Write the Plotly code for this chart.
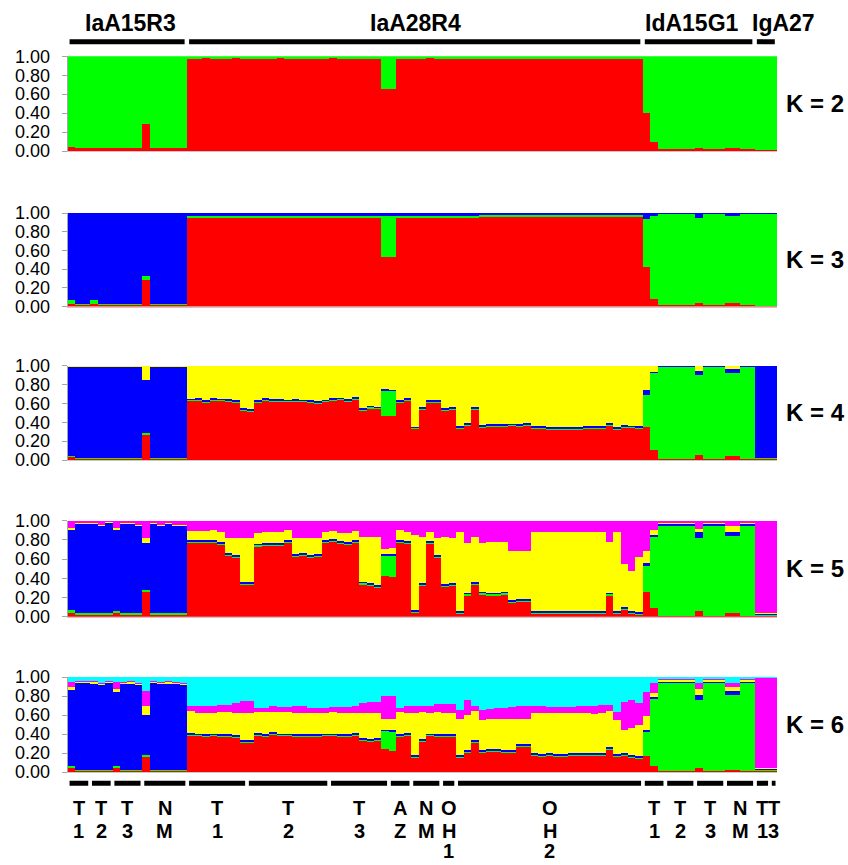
import plotly.graph_objects as go

# ---------------- data ----------------
groups = ["IaA15R3", "IaA28R4", "IdA15G1", "IgA27"]
group_sizes = [16, 61, 15, 3]
subgroup_labels = ["T1", "T2", "T3", "NM", "T1", "T2", "T3", "AZ", "NM", "OH1", "OH2",
                   "T1", "T2", "T3", "NM", "T1", "T3"]
subgroup_sizes = [3, 3, 4, 6, 8, 11, 8, 3, 4, 2, 25, 3, 4, 4, 4, 2, 1]
k_values = [2, 3, 4, 5, 6]
cluster_names = ["red", "green", "blue", "yellow", "magenta", "cyan"]

k2_red = [0.04, 0.03, 0.03, 0.03, 0.03, 0.03, 0.03, 0.03, 0.03, 0.03, 0.29, 0.03, 0.03, 0.03, 0.03, 0.03,
          0.975, 0.975, 0.98, 0.975, 0.975, 0.975, 0.98, 0.975, 0.975, 0.975,
          0.975, 0.975, 0.98, 0.975, 0.975, 0.975, 0.975, 0.975, 0.975, 0.98,
          0.975, 0.975, 0.975, 0.975, 0.975, 0.975, 0.65, 0.65, 0.975, 0.975,
          0.975, 0.975, 0.98, 0.975, 0.975, 0.975, 0.975, 0.975, 0.975, 0.975,
          0.975, 0.975, 0.975, 0.975, 0.975, 0.975, 0.975, 0.975, 0.975, 0.975,
          0.975, 0.975, 0.975, 0.975, 0.975, 0.975, 0.975, 0.975, 0.975, 0.975, 0.975,
          0.40, 0.10, 0.02, 0.02, 0.02, 0.02, 0.02, 0.035, 0.02, 0.02, 0.02, 0.03, 0.03, 0.02, 0.02,
          0.01, 0.01, 0.01]
k2_green = [0.96, 0.97, 0.97, 0.97, 0.97, 0.97, 0.97, 0.97, 0.97, 0.97, 0.71, 0.97, 0.97, 0.97, 0.97, 0.97,
            0.025, 0.025, 0.02, 0.025, 0.025, 0.025, 0.02, 0.025, 0.025, 0.025,
            0.025, 0.025, 0.02, 0.025, 0.025, 0.025, 0.025, 0.025, 0.025, 0.02,
            0.025, 0.025, 0.025, 0.025, 0.025, 0.025, 0.35, 0.35, 0.025, 0.025,
            0.025, 0.025, 0.02, 0.025, 0.025, 0.025, 0.025, 0.025, 0.025, 0.025,
            0.025, 0.025, 0.025, 0.025, 0.025, 0.025, 0.025, 0.025, 0.025, 0.025,
            0.025, 0.025, 0.025, 0.025, 0.025, 0.025, 0.025, 0.025, 0.025, 0.025, 0.025,
            0.60, 0.90, 0.98, 0.98, 0.98, 0.98, 0.98, 0.965, 0.98, 0.98, 0.98, 0.97, 0.97, 0.98, 0.98,
            0.99, 0.99, 0.99]

k3_red = [0.03, 0.015, 0.015, 0.03, 0.015, 0.015, 0.015, 0.015, 0.015, 0.015, 0.28, 0.015, 0.015, 0.015, 0.015, 0.015,
          0.945, 0.945, 0.945, 0.945, 0.945, 0.95, 0.95, 0.95, 0.95, 0.95,
          0.95, 0.95, 0.95, 0.95, 0.95, 0.945, 0.945, 0.945, 0.945, 0.95,
          0.95, 0.95, 0.95, 0.95, 0.95, 0.95, 0.53, 0.53, 0.95, 0.95,
          0.95, 0.95, 0.95, 0.95, 0.95, 0.95, 0.95, 0.95, 0.95, 0.955,
          0.955, 0.955, 0.955, 0.955, 0.955, 0.955, 0.955, 0.955, 0.955, 0.955,
          0.955, 0.955, 0.955, 0.955, 0.955, 0.955, 0.955, 0.955, 0.955, 0.955, 0.955,
          0.42, 0.08, 0.015, 0.015, 0.015, 0.015, 0.015, 0.04, 0.015, 0.015, 0.015, 0.04, 0.04, 0.015, 0.015,
          0.01, 0.01, 0.01]
k3_green = [0.04, 0.015, 0.015, 0.04, 0.015, 0.015, 0.015, 0.015, 0.015, 0.015, 0.05, 0.015, 0.015, 0.015, 0.015, 0.015,
            0.02, 0.02, 0.02, 0.02, 0.02, 0.02, 0.02, 0.02, 0.02, 0.02,
            0.02, 0.02, 0.02, 0.02, 0.02, 0.02, 0.02, 0.02, 0.02, 0.02,
            0.02, 0.02, 0.02, 0.02, 0.02, 0.02, 0.44, 0.44, 0.02, 0.02,
            0.02, 0.02, 0.02, 0.02, 0.02, 0.02, 0.02, 0.02, 0.02, 0.02,
            0.02, 0.02, 0.02, 0.02, 0.02, 0.02, 0.02, 0.02, 0.02, 0.02,
            0.02, 0.02, 0.02, 0.02, 0.02, 0.02, 0.02, 0.02, 0.02, 0.02, 0.02,
            0.52, 0.89, 0.97, 0.97, 0.97, 0.97, 0.97, 0.91, 0.97, 0.97, 0.97, 0.93, 0.93, 0.97, 0.97,
            0.98, 0.98, 0.98]
k3_blue = [0.93, 0.97, 0.97, 0.93, 0.97, 0.97, 0.97, 0.97, 0.97, 0.97, 0.67, 0.97, 0.97, 0.97, 0.97, 0.97,
           0.035, 0.035, 0.035, 0.035, 0.035, 0.03, 0.03, 0.03, 0.03, 0.03,
           0.03, 0.03, 0.03, 0.03, 0.03, 0.035, 0.035, 0.035, 0.035, 0.03,
           0.03, 0.03, 0.03, 0.03, 0.03, 0.03, 0.03, 0.03, 0.03, 0.03,
           0.03, 0.03, 0.03, 0.03, 0.03, 0.03, 0.03, 0.03, 0.03, 0.025,
           0.025, 0.025, 0.025, 0.025, 0.025, 0.025, 0.025, 0.025, 0.025, 0.025,
           0.025, 0.025, 0.025, 0.025, 0.025, 0.025, 0.025, 0.025, 0.025, 0.025, 0.025,
           0.06, 0.03, 0.015, 0.015, 0.015, 0.015, 0.015, 0.05, 0.015, 0.015, 0.015, 0.03, 0.03, 0.015, 0.015,
           0.01, 0.01, 0.01]

k4_red = [0.03, 0.015, 0.015, 0.015, 0.015, 0.015, 0.015, 0.015, 0.015, 0.015, 0.265, 0.015, 0.015, 0.015, 0.015, 0.015,
          0.62, 0.625, 0.60, 0.625, 0.62, 0.615, 0.60, 0.52, 0.51, 0.60,
          0.625, 0.615, 0.615, 0.61, 0.615, 0.61, 0.605, 0.59, 0.61, 0.623,
          0.63, 0.615, 0.635, 0.517, 0.545, 0.535, 0.47, 0.465, 0.605, 0.623,
          0.323, 0.528, 0.605, 0.605, 0.517, 0.528, 0.33, 0.36, 0.528, 0.34,
          0.35, 0.35, 0.35, 0.355, 0.35, 0.36, 0.33, 0.325, 0.32, 0.32,
          0.32, 0.32, 0.32, 0.325, 0.325, 0.33, 0.36, 0.32, 0.34, 0.335, 0.33,
          0.345, 0.105, 0.015, 0.015, 0.015, 0.015, 0.015, 0.053, 0.015, 0.015, 0.015, 0.04, 0.04, 0.015, 0.015,
          0.01, 0.01, 0.01]
k4_green = [0.015, 0.01, 0.01, 0.01, 0.01, 0.01, 0.01, 0.01, 0.01, 0.01, 0.025, 0.01, 0.01, 0.01, 0.01, 0.01,
            0.012, 0.012, 0.012, 0.012, 0.012, 0.012, 0.012, 0.012, 0.012, 0.012,
            0.012, 0.012, 0.012, 0.012, 0.012, 0.012, 0.012, 0.012, 0.012, 0.012,
            0.012, 0.012, 0.012, 0.012, 0.012, 0.012, 0.265, 0.265, 0.012, 0.012,
            0.012, 0.012, 0.012, 0.012, 0.012, 0.012, 0.012, 0.012, 0.012, 0.012,
            0.012, 0.012, 0.012, 0.012, 0.012, 0.012, 0.012, 0.012, 0.012, 0.012,
            0.012, 0.012, 0.012, 0.012, 0.012, 0.012, 0.012, 0.012, 0.012, 0.012, 0.012,
            0.345, 0.815, 0.965, 0.965, 0.965, 0.965, 0.965, 0.847, 0.965, 0.965, 0.965, 0.88, 0.88, 0.965, 0.965,
            0.015, 0.015, 0.015]
k4_blue = [0.935, 0.955, 0.955, 0.955, 0.955, 0.955, 0.955, 0.955, 0.955, 0.955, 0.56, 0.955, 0.955, 0.955, 0.955, 0.955,
           0.018, 0.018, 0.018, 0.018, 0.018, 0.018, 0.018, 0.018, 0.018, 0.018,
           0.018, 0.018, 0.018, 0.018, 0.018, 0.018, 0.018, 0.018, 0.018, 0.018,
           0.018, 0.018, 0.018, 0.018, 0.018, 0.018, 0.015, 0.015, 0.018, 0.018,
           0.018, 0.018, 0.018, 0.018, 0.018, 0.018, 0.018, 0.018, 0.018, 0.018,
           0.018, 0.018, 0.018, 0.018, 0.018, 0.018, 0.018, 0.018, 0.018, 0.018,
           0.018, 0.018, 0.018, 0.018, 0.018, 0.018, 0.018, 0.018, 0.018, 0.018, 0.018,
           0.05, 0.015, 0.015, 0.015, 0.015, 0.015, 0.015, 0.045, 0.015, 0.015, 0.015, 0.045, 0.045, 0.015, 0.015,
           0.97, 0.97, 0.97]
k4_yellow = [0.02, 0.02, 0.02, 0.02, 0.02, 0.02, 0.02, 0.02, 0.02, 0.02, 0.15, 0.02, 0.02, 0.02, 0.02, 0.02,
             0.35, 0.345, 0.37, 0.345, 0.35, 0.355, 0.37, 0.45, 0.46, 0.37,
             0.345, 0.355, 0.355, 0.36, 0.355, 0.36, 0.365, 0.38, 0.36, 0.347,
             0.34, 0.355, 0.335, 0.453, 0.425, 0.435, 0.25, 0.255, 0.365, 0.347,
             0.647, 0.442, 0.365, 0.365, 0.453, 0.442, 0.64, 0.61, 0.442, 0.63,
             0.62, 0.62, 0.62, 0.615, 0.62, 0.61, 0.64, 0.645, 0.65, 0.65,
             0.65, 0.65, 0.65, 0.645, 0.645, 0.64, 0.61, 0.65, 0.63, 0.635, 0.64,
             0.26, 0.065, 0.005, 0.005, 0.005, 0.005, 0.005, 0.055, 0.005, 0.005, 0.005, 0.035, 0.035, 0.005, 0.005,
             0.005, 0.005, 0.005]

k5_red = [0.042, 0.017, 0.017, 0.017, 0.017, 0.017, 0.04, 0.017, 0.017, 0.017, 0.26, 0.017, 0.017, 0.017, 0.017, 0.017,
          0.77, 0.77, 0.77, 0.77, 0.75, 0.63, 0.61, 0.327, 0.327, 0.73,
          0.74, 0.74, 0.74, 0.77, 0.62, 0.63, 0.615, 0.625, 0.77, 0.78,
          0.76, 0.75, 0.77, 0.335, 0.317, 0.30, 0.42, 0.415, 0.77, 0.76,
          0.04, 0.32, 0.76, 0.61, 0.31, 0.32, 0.03, 0.22, 0.33, 0.23,
          0.22, 0.22, 0.23, 0.14, 0.15, 0.15, 0.03, 0.03, 0.03, 0.03,
          0.03, 0.03, 0.03, 0.03, 0.03, 0.03, 0.22, 0.03, 0.07, 0.03, 0.015,
          0.253, 0.087, 0.008, 0.008, 0.008, 0.008, 0.008, 0.06, 0.008, 0.008, 0.008, 0.035, 0.035, 0.008, 0.008,
          0.01, 0.01, 0.01]
k5_green = [0.024, 0.018, 0.018, 0.018, 0.018, 0.018, 0.02, 0.018, 0.018, 0.018, 0.018, 0.018, 0.018, 0.018, 0.018, 0.018,
            0.012, 0.012, 0.012, 0.012, 0.012, 0.012, 0.012, 0.012, 0.012, 0.012,
            0.012, 0.012, 0.012, 0.012, 0.012, 0.012, 0.012, 0.012, 0.012, 0.012,
            0.012, 0.012, 0.012, 0.012, 0.012, 0.012, 0.215, 0.22, 0.012, 0.012,
            0.012, 0.012, 0.012, 0.012, 0.012, 0.012, 0.012, 0.012, 0.012, 0.012,
            0.012, 0.012, 0.012, 0.012, 0.012, 0.012, 0.012, 0.012, 0.012, 0.012,
            0.012, 0.012, 0.012, 0.012, 0.012, 0.012, 0.012, 0.012, 0.012, 0.012, 0.012,
            0.277, 0.746, 0.94, 0.94, 0.94, 0.94, 0.94, 0.756, 0.94, 0.94, 0.94, 0.805, 0.805, 0.94, 0.94,
            0.01, 0.01, 0.01]
k5_blue = [0.837, 0.927, 0.927, 0.927, 0.913, 0.937, 0.843, 0.927, 0.927, 0.913, 0.492, 0.927, 0.913, 0.927, 0.913, 0.913,
           0.018, 0.018, 0.018, 0.018, 0.018, 0.018, 0.018, 0.018, 0.018, 0.018,
           0.018, 0.018, 0.018, 0.018, 0.018, 0.018, 0.018, 0.018, 0.018, 0.018,
           0.018, 0.018, 0.018, 0.018, 0.018, 0.018, 0.015, 0.015, 0.018, 0.018,
           0.018, 0.018, 0.018, 0.018, 0.018, 0.018, 0.018, 0.018, 0.018, 0.018,
           0.018, 0.018, 0.018, 0.018, 0.018, 0.018, 0.018, 0.018, 0.018, 0.018,
           0.018, 0.018, 0.018, 0.018, 0.018, 0.018, 0.018, 0.018, 0.018, 0.018, 0.018,
           0.025, 0.017, 0.015, 0.015, 0.015, 0.015, 0.015, 0.062, 0.015, 0.015, 0.015, 0.045, 0.045, 0.015, 0.015,
           0.01, 0.01, 0.01]
k5_yellow = [0.024, 0.01, 0.01, 0.01, 0.01, 0.01, 0.024, 0.01, 0.01, 0.01, 0.046, 0.01, 0.01, 0.01, 0.01, 0.01,
             0.09, 0.09, 0.09, 0.10, 0.10, 0.156, 0.176, 0.459, 0.459, 0.11,
             0.11, 0.11, 0.115, 0.10, 0.166, 0.156, 0.171, 0.161, 0.085, 0.08,
             0.085, 0.095, 0.09, 0.461, 0.479, 0.496, 0.06, 0.065, 0.10, 0.095,
             0.78, 0.476, 0.095, 0.176, 0.486, 0.466, 0.825, 0.52, 0.466, 0.51,
             0.525, 0.525, 0.515, 0.51, 0.50, 0.50, 0.825, 0.825, 0.825, 0.825,
             0.825, 0.825, 0.825, 0.825, 0.825, 0.825, 0.53, 0.825, 0.445, 0.416, 0.58,
             0.125, 0.05, 0.01, 0.01, 0.01, 0.01, 0.01, 0.035, 0.01, 0.01, 0.01, 0.06, 0.06, 0.01, 0.01,
             0.005, 0.005, 0.005]
k5_magenta = [0.073, 0.028, 0.028, 0.028, 0.042, 0.018, 0.073, 0.028, 0.028, 0.042, 0.184, 0.028, 0.042, 0.028, 0.042, 0.042,
              0.11, 0.11, 0.11, 0.10, 0.12, 0.184, 0.184, 0.184, 0.184, 0.13,
              0.12, 0.12, 0.115, 0.10, 0.184, 0.184, 0.184, 0.184, 0.115, 0.11,
              0.125, 0.125, 0.11, 0.174, 0.174, 0.174, 0.29, 0.285, 0.10, 0.115,
              0.15, 0.174, 0.115, 0.184, 0.174, 0.184, 0.115, 0.23, 0.174, 0.23,
              0.225, 0.225, 0.225, 0.32, 0.32, 0.32, 0.115, 0.115, 0.115, 0.115,
              0.115, 0.115, 0.115, 0.115, 0.115, 0.115, 0.22, 0.115, 0.455, 0.524, 0.375,
              0.32, 0.10, 0.027, 0.027, 0.027, 0.027, 0.027, 0.087, 0.027, 0.027, 0.027, 0.055, 0.055, 0.027, 0.027,
              0.965, 0.965, 0.965]

k6_red = [0.04, 0.01, 0.01, 0.01, 0.01, 0.01, 0.04, 0.01, 0.01, 0.01, 0.16, 0.01, 0.01, 0.01, 0.01, 0.01,
          0.38, 0.375, 0.37, 0.375, 0.365, 0.365, 0.36, 0.305, 0.305, 0.38,
          0.37, 0.39, 0.375, 0.375, 0.37, 0.37, 0.37, 0.37, 0.375, 0.375,
          0.37, 0.365, 0.38, 0.325, 0.32, 0.33, 0.24, 0.22, 0.365, 0.38,
          0.145, 0.32, 0.375, 0.37, 0.365, 0.365, 0.15, 0.20, 0.31, 0.20,
          0.21, 0.21, 0.205, 0.205, 0.26, 0.26, 0.165, 0.16, 0.165, 0.16,
          0.16, 0.165, 0.165, 0.165, 0.165, 0.17, 0.235, 0.16, 0.165, 0.15, 0.14,
          0.165, 0.06, 0.012, 0.012, 0.012, 0.012, 0.012, 0.04, 0.012, 0.012, 0.012, 0.025, 0.025, 0.012, 0.012,
          0.01, 0.01, 0.01]
k6_green = [0.027, 0.015, 0.015, 0.015, 0.015, 0.015, 0.025, 0.015, 0.015, 0.015, 0.015, 0.015, 0.015, 0.015, 0.015, 0.015,
            0.01, 0.01, 0.01, 0.01, 0.01, 0.01, 0.01, 0.01, 0.01, 0.01,
            0.01, 0.01, 0.01, 0.01, 0.01, 0.01, 0.01, 0.01, 0.01, 0.01,
            0.01, 0.01, 0.01, 0.01, 0.01, 0.01, 0.19, 0.205, 0.01, 0.01,
            0.01, 0.01, 0.01, 0.01, 0.01, 0.01, 0.01, 0.01, 0.01, 0.01,
            0.01, 0.01, 0.01, 0.01, 0.01, 0.01, 0.01, 0.01, 0.01, 0.01,
            0.01, 0.01, 0.01, 0.01, 0.01, 0.01, 0.01, 0.01, 0.01, 0.01, 0.01,
            0.255, 0.71, 0.925, 0.925, 0.925, 0.925, 0.925, 0.72, 0.925, 0.925, 0.925, 0.785, 0.785, 0.925, 0.925,
            0.01, 0.01, 0.01]
k6_blue = [0.793, 0.91, 0.91, 0.905, 0.89, 0.91, 0.78, 0.90, 0.905, 0.89, 0.425, 0.91, 0.90, 0.905, 0.90, 0.89,
           0.02, 0.02, 0.02, 0.02, 0.02, 0.02, 0.02, 0.02, 0.02, 0.02,
           0.02, 0.02, 0.02, 0.02, 0.02, 0.02, 0.02, 0.02, 0.02, 0.02,
           0.02, 0.02, 0.02, 0.02, 0.02, 0.02, 0.015, 0.015, 0.02, 0.02,
           0.02, 0.02, 0.02, 0.02, 0.02, 0.02, 0.02, 0.02, 0.02, 0.02,
           0.02, 0.02, 0.02, 0.02, 0.02, 0.02, 0.02, 0.02, 0.02, 0.02,
           0.02, 0.02, 0.02, 0.02, 0.02, 0.02, 0.02, 0.02, 0.02, 0.02, 0.02,
           0.025, 0.02, 0.012, 0.012, 0.012, 0.012, 0.012, 0.055, 0.012, 0.012, 0.012, 0.045, 0.045, 0.012, 0.012,
           0.01, 0.01, 0.01]
k6_yellow = [0.03, 0.015, 0.015, 0.015, 0.015, 0.015, 0.03, 0.015, 0.015, 0.015, 0.10, 0.015, 0.015, 0.015, 0.015, 0.015,
             0.23, 0.22, 0.225, 0.22, 0.235, 0.235, 0.235, 0.285, 0.285, 0.22,
             0.23, 0.215, 0.225, 0.225, 0.225, 0.225, 0.225, 0.225, 0.22, 0.225,
             0.225, 0.23, 0.215, 0.265, 0.27, 0.26, 0.115, 0.12, 0.24, 0.215,
             0.445, 0.285, 0.22, 0.23, 0.23, 0.23, 0.38, 0.375, 0.30, 0.32,
             0.32, 0.32, 0.325, 0.325, 0.265, 0.265, 0.43, 0.43, 0.425, 0.43,
             0.43, 0.425, 0.43, 0.425, 0.42, 0.42, 0.375, 0.36, 0.25, 0.28, 0.33,
             0.14, 0.04, 0.015, 0.015, 0.015, 0.015, 0.015, 0.06, 0.015, 0.015, 0.015, 0.04, 0.04, 0.015, 0.015,
             0.01, 0.01, 0.01]
k6_magenta = [0.06, 0.01, 0.01, 0.01, 0.01, 0.01, 0.07, 0.01, 0.01, 0.01, 0.15, 0.01, 0.01, 0.01, 0.01, 0.01,
              0.06, 0.07, 0.065, 0.065, 0.08, 0.08, 0.10, 0.125, 0.125, 0.045,
              0.045, 0.055, 0.05, 0.05, 0.075, 0.075, 0.05, 0.05, 0.05, 0.05,
              0.055, 0.055, 0.065, 0.105, 0.115, 0.12, 0.24, 0.235, 0.04, 0.075,
              0.08, 0.055, 0.065, 0.09, 0.095, 0.095, 0.095, 0.155, 0.05, 0.105,
              0.105, 0.11, 0.115, 0.12, 0.145, 0.145, 0.065, 0.07, 0.065, 0.065,
              0.065, 0.065, 0.07, 0.08, 0.085, 0.085, 0.065, 0.08, 0.295, 0.30, 0.23,
              0.255, 0.107, 0.015, 0.015, 0.015, 0.015, 0.015, 0.065, 0.015, 0.015, 0.015, 0.045, 0.045, 0.015, 0.015,
              0.95, 0.95, 0.95]
k6_cyan = [0.05, 0.04, 0.04, 0.045, 0.06, 0.04, 0.055, 0.05, 0.045, 0.06, 0.15, 0.04, 0.05, 0.045, 0.05, 0.06,
           0.30, 0.305, 0.31, 0.31, 0.29, 0.29, 0.275, 0.255, 0.255, 0.325,
           0.325, 0.31, 0.32, 0.32, 0.30, 0.30, 0.325, 0.325, 0.325, 0.32,
           0.32, 0.32, 0.31, 0.275, 0.265, 0.26, 0.20, 0.205, 0.325, 0.30,
           0.30, 0.31, 0.31, 0.28, 0.28, 0.28, 0.345, 0.24, 0.31, 0.345,
           0.335, 0.33, 0.325, 0.32, 0.30, 0.30, 0.31, 0.31, 0.315, 0.315,
           0.315, 0.315, 0.305, 0.30, 0.30, 0.295, 0.295, 0.37, 0.26, 0.24, 0.27,
           0.16, 0.063, 0.021, 0.021, 0.021, 0.021, 0.021, 0.06, 0.021, 0.021, 0.021, 0.06, 0.06, 0.021, 0.021,
           0.01, 0.01, 0.01]

panels = {
    2: [k2_red, k2_green],
    3: [k3_red, k3_green, k3_blue],
    4: [k4_red, k4_green, k4_blue, k4_yellow],
    5: [k5_red, k5_green, k5_blue, k5_yellow, k5_magenta],
    6: [k6_red, k6_green, k6_blue, k6_yellow, k6_magenta, k6_cyan],
}

# ---------------- styling / layout ----------------
W, H = 848, 865
COLORS = {"red": "#FF0000", "green": "#00FF00", "blue": "#0000FF",
          "yellow": "#FFFF00", "magenta": "#FF00FF", "cyan": "#00FFFF"}
FONT = "Liberation Sans, Arial, sans-serif"
AXIS_GREY = "#A6A6A6"

def px_x(p):
    return p / W

def px_y(p):
    return 1 - p / H

plot_left, plot_right = 67.7, 777.4
panel_px = [(56.3, 151.0), (213.0, 306.5), (365.5, 460.0), (520.7, 616.7), (677.0, 772.0)]
sub_line_px = [808.0, 830.5, 851.0]   # centres of the stacked label lines

n_ind = sum(group_sizes)
for k in k_values:
    for arr in panels[k]:
        assert len(arr) == n_ind, (k, len(arr))
x_idx = list(range(n_ind))

fig = go.Figure()
layout = dict(
    template="none",
    width=W, height=H, autosize=False,
    margin=dict(l=0, r=0, t=0, b=0, pad=0, autoexpand=False),
    paper_bgcolor="white", plot_bgcolor="white",
    barmode="stack", bargap=0, showlegend=False,
    font=dict(family=FONT, color="black"),
)

for pi, k in enumerate(k_values):
    n = pi + 1
    xa = "x" if n == 1 else f"x{n}"
    ya = "y" if n == 1 else f"y{n}"
    arrays = panels[k]
    totals = [sum(a[i] for a in arrays) for i in range(n_ind)]
    for ci, arr in enumerate(arrays):
        vals = [arr[i] / totals[i] for i in range(n_ind)]
        fig.add_trace(go.Bar(
            x=x_idx, y=vals, xaxis=xa, yaxis=ya,
            marker=dict(color=COLORS[cluster_names[ci]], line=dict(width=0)),
            name=cluster_names[ci], hoverinfo="skip",
        ))
    top, bot = panel_px[pi]
    layout[f"xaxis{'' if n == 1 else n}"] = dict(
        domain=[px_x(plot_left), px_x(plot_right)], range=[-0.5, n_ind - 0.5],
        anchor=ya, showticklabels=False, ticks="", showgrid=False, zeroline=False,
        showline=True, linecolor="#C8C8C8", linewidth=1, fixedrange=True, automargin=False,
    )
    layout[f"yaxis{'' if n == 1 else n}"] = dict(
        domain=[px_y(bot), px_y(top)], range=[0, 1], anchor=xa,
        tickvals=[0, 0.2, 0.4, 0.6, 0.8, 1.0],
        ticktext=["0.00", "0.20", "0.40", "0.60", "0.80", "1.00"],
        ticks="outside", ticklen=5, tickcolor=AXIS_GREY, tickwidth=1,
        showline=True, linecolor=AXIS_GREY, linewidth=1,
        showgrid=False, zeroline=False, ticklabelstandoff=8, automargin=False,
        tickfont=dict(family=FONT, size=18, color="black"), fixedrange=True,
    )

fig.update_layout(**layout)

shapes = []
annotations = []

# K labels
for pi, k in enumerate(k_values):
    top, bot = panel_px[pi]
    annotations.append(dict(
        x=px_x(815), y=px_y((top + bot) / 2), xref="paper", yref="paper",
        text=f"K = {k}", showarrow=False, xanchor="center", yanchor="middle",
        font=dict(family=FONT, size=24, color="black", weight="bold"),
    ))

# top group bars + labels
group_label_shift = [3, 0, -7, 17]
start = 0
for gi, (g, size) in enumerate(zip(groups, group_sizes)):
    x0 = start - 0.5 + 0.25
    x1 = start + size - 0.5 - 0.35
    shapes.append(dict(type="line", xref="x", yref="paper", x0=x0, x1=x1,
                       y0=px_y(41.7), y1=px_y(41.7), line=dict(color="black", width=5)))
    annotations.append(dict(
        x=start + (size - 1) / 2, y=px_y(23.5), xref="x", yref="paper",
        text=g, showarrow=False, xanchor="center", yanchor="middle", xshift=group_label_shift[gi],
        font=dict(family=FONT, size=23, color="black", weight="bold"),
    ))
    start += size

# bottom subgroup bars + stacked (one character per line) labels
start = 0
for lab, size in zip(subgroup_labels, subgroup_sizes):
    x0 = start - 0.5 + 0.25
    x1 = start + size - 0.5 - 0.25
    shapes.append(dict(type="line", xref="x5", yref="paper", x0=x0, x1=x1,
                       y0=px_y(783.3), y1=px_y(783.3), line=dict(color="black", width=5)))
    for li, ch in enumerate(lab):
        annotations.append(dict(
            x=start + (size - 1) / 2, y=px_y(sub_line_px[li]), xref="x5", yref="paper",
            text=ch, showarrow=False, xanchor="center", yanchor="middle",
            font=dict(family=FONT, size=20, color="black", weight="bold"),
        ))
    start += size

fig.update_layout(shapes=shapes, annotations=annotations)
fig.write_html(
    "out.html",
    config={"displayModeBar": False, "staticPlot": True},
    post_script="document.body.style.margin='0';document.body.style.overflow='hidden';",
)
